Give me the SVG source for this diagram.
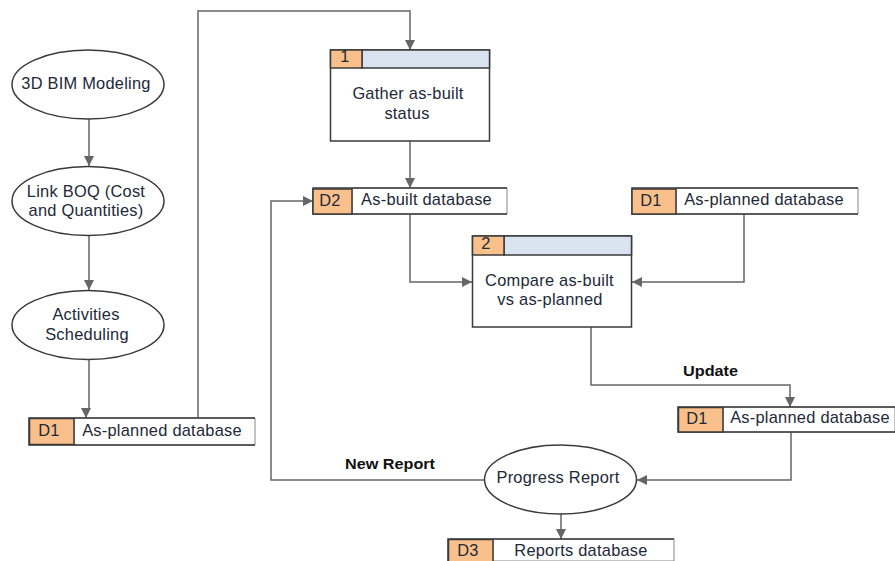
<svg xmlns="http://www.w3.org/2000/svg" width="895" height="561" viewBox="0 0 895 561">
<style>
text{font-family:"Liberation Sans",Arial,sans-serif;font-size:16.4px;letter-spacing:.25px;fill:#222838;text-anchor:middle}
.n{fill:#fff;stroke:#3a3a3a;stroke-width:1.5}
.o{fill:#f9c08b;stroke:#3a3a3a;stroke-width:1.5}
.b{fill:#dae4f0;stroke:#3a3a3a;stroke-width:1.5}
.s{fill:#fff;stroke:#888;stroke-width:1}
.t{stroke:#3a3a3a;stroke-width:1.5;fill:none}
.c{fill:none;stroke:#666;stroke-width:1.5}
.l{font-weight:bold;font-size:15px;letter-spacing:0;fill:#111;text-anchor:start}
</style>
<defs><marker id="a" markerUnits="userSpaceOnUse" markerWidth="12" markerHeight="12" refX="10" refY="5" orient="auto"><path d="M0 0L10 5L0 10Z" fill="#666"/></marker></defs>
<rect width="895" height="561" fill="#fff"/>
<g id="connectors">
<path class="c" marker-end="url(#a)" d="M89 119V166"/>
<path class="c" marker-end="url(#a)" d="M89 236V290"/>
<path class="c" d="M89 360V408"/><path class="c" marker-end="url(#a)" d="M86 408V418"/>
<path class="c" marker-end="url(#a)" d="M198 418V11H410V50"/>
<path class="c" marker-end="url(#a)" d="M410 141V188"/>
<path class="c" marker-end="url(#a)" d="M410 214V282H472"/>
<path class="c" marker-end="url(#a)" d="M744 214V282H632"/>
<path class="c" marker-end="url(#a)" d="M591 327V385H790V407"/>
<path class="c" marker-end="url(#a)" d="M791 432V480H637"/>
<path class="c" marker-end="url(#a)" d="M484 480H271V201H313"/>
<path class="c" marker-end="url(#a)" d="M561 514V539"/>
<text class="l" x="683" y="376" textLength="55" lengthAdjust="spacingAndGlyphs">Update</text>
<text class="l" x="345" y="469" textLength="90" lengthAdjust="spacingAndGlyphs">New Report</text>
</g>
<g id="bim"><ellipse class="n" cx="88" cy="84.500" rx="76" ry="34.500"/><text x="86" y="89">3D BIM Modeling</text></g>
<g id="boq"><ellipse class="n" cx="88" cy="201" rx="76" ry="34.500"/><text x="86" y="197">Link BOQ (Cost</text><text x="86" y="216">and Quantities)</text></g>
<g id="sched"><ellipse class="n" cx="88" cy="325" rx="76" ry="34.500"/><text x="86" y="320">Activities</text><text x="87" y="340">Scheduling</text></g>
<g id="d1a"><path class="s" d="M74 418H255V445H74Z"/><path class="t" d="M255 418H29V445H255"/><rect class="o" x="29.500" y="418.500" width="44.500" height="26"/><text x="49" y="436">D1</text><text x="162" y="436">As-planned database</text></g>
<g id="p1"><rect class="n" x="330.500" y="50" width="159" height="91"/><rect class="b" x="362" y="50" width="127.500" height="18"/><rect class="o" x="330.500" y="50" width="31.500" height="18"/><text x="345" y="62">1</text><text x="408" y="99">Gather as-built</text><text x="407" y="119">status</text></g>
<g id="d2"><path class="s" d="M352 188H507V214H352Z"/><path class="t" d="M507 188H313V214H507"/><rect class="o" x="313" y="189" width="39" height="25"/><text x="330" y="206">D2</text><text x="426.500" y="205">As-built database</text></g>
<g id="d1b"><path class="s" d="M676 188H858V214H676Z"/><path class="t" d="M858 188H632V214H858"/><rect class="o" x="632" y="189" width="44" height="25"/><text x="651" y="206">D1</text><text x="764" y="205">As-planned database</text></g>
<g id="p2"><rect class="n" x="472.500" y="236" width="159" height="91"/><rect class="b" x="504" y="236" width="127.500" height="19"/><rect class="o" x="472.500" y="236" width="31.500" height="19"/><text x="486" y="249">2</text><text x="549.500" y="286">Compare as-built</text><text x="550" y="305">vs as-planned</text></g>
<g id="d1c"><path class="s" d="M723 407H895V432H723Z"/><path class="t" d="M895 407H678V432H895"/><rect class="o" x="678.500" y="407.500" width="44.500" height="24.500"/><text x="697" y="424">D1</text><text x="810" y="423">As-planned database</text></g>
<g id="report"><ellipse class="n" cx="560.500" cy="479.500" rx="76" ry="34.500"/><text x="558" y="483">Progress Report</text></g>
<g id="d3"><path class="s" d="M493 539H674V561H493Z"/><path class="t" d="M674 539H448V561"/><rect class="o" x="448.500" y="539.500" width="44.500" height="23"/><text x="468" y="556">D3</text><text x="581" y="556">Reports database</text></g>
</svg>
